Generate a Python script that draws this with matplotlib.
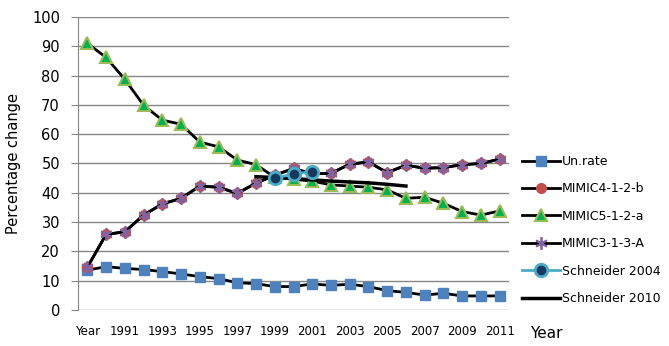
import numpy as np
import matplotlib
matplotlib.use("Agg")
import matplotlib.pyplot as plt

# categories (first one is the header cell "Year", as in the sheet)
categories = ["Year"] + [str(y) for y in range(1990, 2012)]

un_rate = [13.6, 14.8, 14.2, 13.8, 13.1, 12.3, 11.4, 10.7, 9.3, 9.0, 8.0, 8.0,
           8.9, 8.4, 8.8, 8.0, 6.6, 6.0, 5.1, 5.7, 4.8, 4.8, 4.8]
mimic4 = [14.6, 25.8, 26.7, 32.4, 36.2, 38.1, 42.3, 41.9, 39.8, 43.3, 46.0, 48.3,
          46.5, 46.6, 49.8, 50.5, 46.9, 49.4, 48.4, 48.6, 49.6, 50.0, 51.5]
mimic5 = [91.0, 86.2, 78.7, 69.9, 64.8, 63.4, 57.3, 55.7, 51.2, 49.6, 45.3, 44.6,
          44.0, 42.7, 42.3, 41.9, 41.0, 38.1, 38.5, 36.4, 33.6, 32.4, 33.8]
mimic3 = mimic4
schneider2004 = [np.nan] * 10 + [45.0, 46.4, 47.2] + [np.nan] * 10
schneider2010 = [np.nan] * 9 + [45.5, 45.2, 44.9, 44.4, 44.0, 43.7, 43.4, 42.9, 42.3] + [np.nan] * 5

x = np.arange(len(categories))

fig = plt.figure(figsize=(6.69, 3.46), dpi=100)
ax = fig.add_axes([78 / 669, 36 / 346, 431 / 669, 293 / 346])

ax.plot(x, un_rate, color="black", lw=2, marker="s", ms=7,
        mfc="#4F81BD", mec="#4F81BD", label="Un.rate", zorder=3)
ax.plot(x, mimic4, color="black", lw=2, marker="o", ms=7,
        mfc="#C0504D", mec="#C0504D", label="MIMIC4-1-2-b", zorder=3)
ax.plot(x, mimic5, color="black", lw=2, marker="^", ms=8,
        mfc="#00B050", mec="#9BBB59", mew=1.5, label="MIMIC5-1-2-a", zorder=3)
ax.plot(x, mimic3, color="black", lw=2, marker=(6, 2, 0), ms=9,
        mfc="#8064A2", mec="#8064A2", mew=1.3, label="MIMIC3-1-3-A", zorder=4)
ax.plot(x, schneider2010, color="black", lw=2.5, label="Schneider 2010", zorder=5)
ax.plot(x, schneider2004, color="#4BACC6", lw=2, marker="o", ms=9,
        mfc="#17375E", mec="#4BACC6", mew=2, label="Schneider 2004", zorder=6)

ax.set_xlim(-0.5, len(categories) - 0.5)
ax.set_ylim(0, 100)
ax.set_yticks(range(0, 101, 10))
ax.set_xticks(x[::2])
ax.set_xticklabels(categories[::2], fontsize=8.5)
ax.tick_params(axis="x", length=0, pad=11)
ax.tick_params(axis="y", length=5, color="#868686", labelsize=10.5, pad=8)
ax.grid(axis="y", color="#868686", lw=1)
ax.set_axisbelow(True)
for s in ["top", "right", "bottom"]:
    ax.spines[s].set_visible(False)
ax.spines["left"].set_color("#868686")

ax.set_ylabel("Percentage change", fontsize=10.5, labelpad=8)
fig.text(530 / 669, 1 - 334 / 346, "Year", fontsize=11, va="center")

handles, labels = ax.get_legend_handles_labels()
order = [0, 1, 2, 3, 5, 4]
fig.legend([handles[i] for i in order], [labels[i] for i in order],
           loc="center left", bbox_to_anchor=(522 / 669, 1 - 230 / 346),
           frameon=False, fontsize=9, handlelength=3.0, labelspacing=1.15,
           handletextpad=0.2, borderpad=0, borderaxespad=0)

fig.savefig("out.png", dpi=100)
